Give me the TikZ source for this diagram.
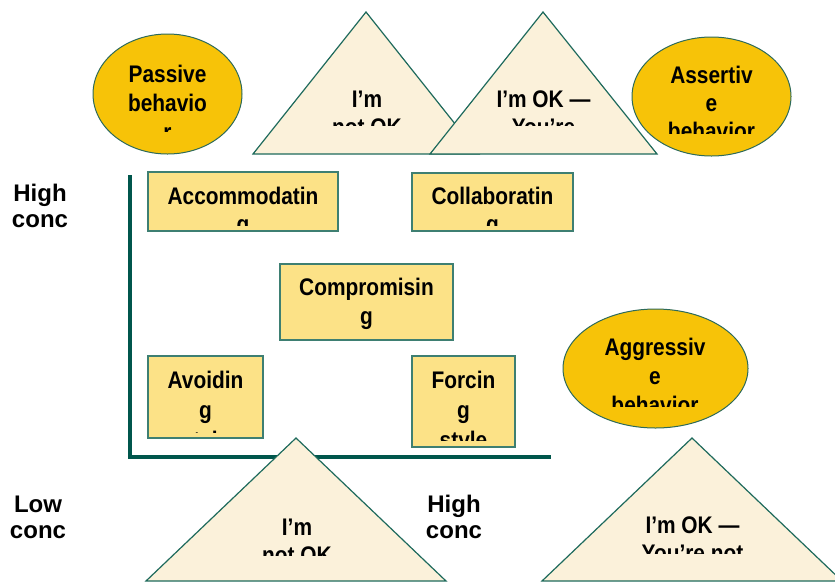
\documentclass[tikz,border=0pt]{standalone}
\usepackage{fontspec}
\setmainfont{Liberation Sans}
\newfontfamily\narrowsans[FakeStretch=0.87]{Liberation Sans}
\usetikzlibrary{shapes.geometric}
\definecolor{goldfill}{HTML}{F7C308}
\definecolor{goldline}{HTML}{2D6A5A}
\definecolor{boxfill}{HTML}{FCE287}
\definecolor{boxline}{HTML}{3E7F72}
\definecolor{trifill}{HTML}{FBF1DA}
\definecolor{triline}{HTML}{1E6A5C}
\definecolor{axiscol}{HTML}{00564C}
\newcommand\mystack[1]{\begin{tabular}[t]{@{}c@{}}#1\end{tabular}}
\tikzset{
  ovalshape/.style={ellipse, draw=goldline, line width=1pt, fill=goldfill, inner sep=0pt},
  stylebox/.style={rectangle, draw=boxline, line width=1.5pt, fill=boxfill, inner sep=0pt},
  triangleshape/.style={draw=triline, line width=1.2pt, fill=trifill, line join=miter},
  axisline/.style={draw=axiscol, line width=4pt, line join=miter},
  intext/.style={inner sep=0pt, anchor=base, text=black, font=\narrowsans\bfseries\fontsize{24}{#1}\selectfont},
  labeltext/.style={inner sep=0pt, anchor=base, text=black, font=\bfseries\fontsize{24}{26}\selectfont}
}
\begin{document}
\begin{tikzpicture}[x=1pt,y=-1pt]
\useasboundingbox[fill=white] (0,0) rectangle (835,582);

% axes
\coordinate (axTop) at (130,175);
\coordinate (axCorner) at (130,457);
\coordinate (axEnd) at (551,457);
\draw[axisline] (axTop) -- (axCorner) -- (axEnd);

% boxes
\node[stylebox, minimum width=190, minimum height=59] (accom) at (243,201.5) {};
\node[stylebox, minimum width=161, minimum height=58] (collab) at (492.5,202) {};
\node[stylebox, minimum width=173, minimum height=76] (compro) at (366.5,302) {};
\node[stylebox, minimum width=115, minimum height=82] (avoid) at (205.5,397) {};
\node[stylebox, minimum width=103, minimum height=91] (forcing) at (463.5,401.5) {};

\begin{scope}\clip (150,174) rectangle (336,225);
\node[intext=28] (accomText) at (243,204) {\mystack{Accommodatin\\g}};
\end{scope}
\begin{scope}\clip (414,175) rectangle (571,225);
\node[intext=28] (collabText) at (492.5,204) {\mystack{Collaboratin\\g}};
\end{scope}
\begin{scope}\clip (282,266) rectangle (451,338);
\node[intext=29.5] (comproText) at (366.5,295) {\mystack{Compromisin\\g}};
\end{scope}
\begin{scope}\clip (150,358) rectangle (261,432);
\node[intext=30] (avoidText) at (205.5,388) {\mystack{Avoidin\\g\\style}};
\end{scope}
\begin{scope}\clip (414,358) rectangle (513,440);
\node[intext=30] (forcingText) at (463.5,388) {\mystack{Forcin\\g\\style}};
\end{scope}

% top triangles
\coordinate (tA1) at (366,12);
\coordinate (tA2) at (253,154);
\coordinate (tA3) at (479,154);
\draw[triangleshape] (tA1) -- (tA2) -- (tA3) -- cycle;
\begin{scope}\clip (280,60) rectangle (450,125);
\node[intext=28] (tAText) at (367,107) {\mystack{I’m\\not OK}};
\end{scope}

\coordinate (tB1) at (543,12);
\coordinate (tB2) at (430,154);
\coordinate (tB3) at (657,154);
\draw[triangleshape] (tB1) -- (tB2) -- (tB3) -- cycle;
\begin{scope}\clip (460,60) rectangle (630,125);
\node[intext=28] (tBText) at (543.5,107) {\mystack{I’m OK —\\You’re}};
\end{scope}

% bottom triangles
\coordinate (tC1) at (296,438);
\coordinate (tC2) at (146,581);
\coordinate (tC3) at (446,581);
\draw[triangleshape] (tC1) -- (tC2) -- (tC3) -- cycle;
\begin{scope}\clip (200,490) rectangle (400,555);
\node[intext=28] (tCText) at (297,535) {\mystack{I’m\\not OK}};
\end{scope}

\coordinate (tD1) at (692,438);
\coordinate (tD2) at (542,581);
\coordinate (tD3) at (842,581);
\draw[triangleshape] (tD1) -- (tD2) -- (tD3) -- cycle;
\begin{scope}\clip (590,490) rectangle (800,553);
\node[intext=28] (tDText) at (692.5,533) {\mystack{I’m OK —\\You’re not}};
\end{scope}

% ellipses
\node[ovalshape, minimum width=149, minimum height=120] (passive) at (167.5,94) {};
\begin{scope}\clip (100,40) rectangle (235,131);
\node[intext=29] (passiveText) at (167.5,82) {\mystack{Passive\\behavio\\r}};
\end{scope}

\node[ovalshape, minimum width=159, minimum height=119] (assertive) at (711.5,96.5) {};
\begin{scope}\clip (640,40) rectangle (785,133);
\node[intext=28] (assertiveText) at (711.5,83) {\mystack{Assertiv\\e\\behavior}};
\end{scope}

\node[ovalshape, minimum width=185, minimum height=119] (aggressive) at (655.5,368.5) {};
\begin{scope}\clip (570,312) rectangle (740,406);
\node[intext=29] (aggressiveText) at (655,355) {\mystack{Aggressiv\\e\\behavior}};
\end{scope}

% axis labels
\node[labeltext] (highLeft) at (40,201) {\mystack{High\\conc}};
\node[labeltext] (lowLeft) at (38,512) {\mystack{Low\\conc}};
\node[labeltext] (highBottom) at (454,512) {\mystack{High\\conc}};
\end{tikzpicture}
\end{document}
